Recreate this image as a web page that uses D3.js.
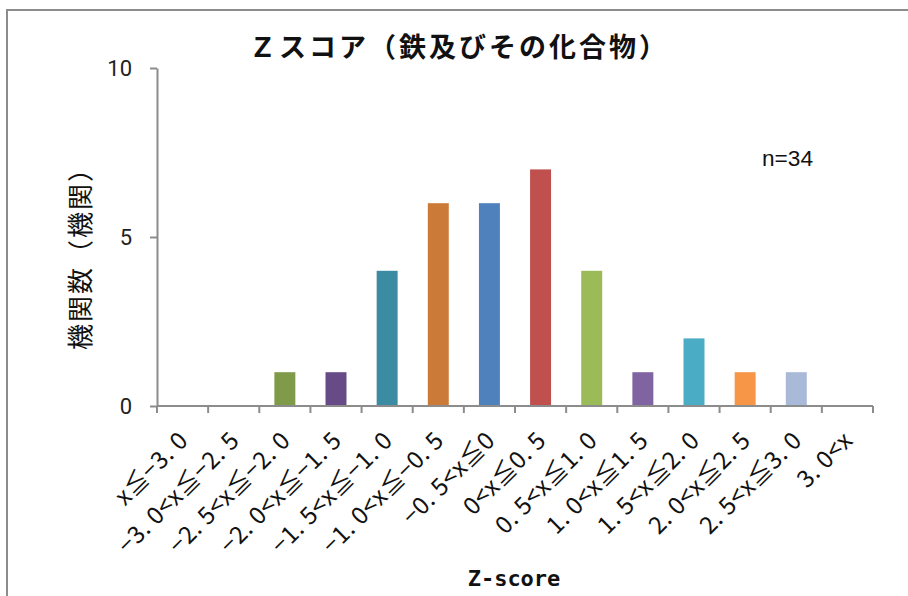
<!DOCTYPE html>
<html>
<head>
<meta charset="utf-8">
<script src="https://cdn.jsdelivr.net/npm/d3@7"></script>
<style>
  html, body { margin: 0; padding: 0; background: #fff; }
  svg { display: block; }
  text { font-family: "Noto Sans CJK JP", "Noto Sans", sans-serif; }
</style>
</head>
<body>
<svg id="chart" width="908" height="596"></svg>
<script>
// Z-score bins (category labels) and the number of laboratories in each
const categories = [
  "x≦−3. 0", "−3. 0<x≦−2. 5", "−2. 5<x≦−2. 0", "−2. 0<x≦−1. 5",
  "−1. 5<x≦−1. 0", "−1. 0<x≦−0. 5", "−0. 5<x≦0", "0<x≦0. 5",
  "0. 5<x≦1. 0", "1. 0<x≦1. 5", "1. 5<x≦2. 0", "2. 0<x≦2. 5",
  "2. 5<x≦3. 0", "3. 0<x"
];
const counts = [0, 0, 1, 1, 4, 6, 6, 7, 4, 1, 2, 1, 1, 0];
const barColors = [
  "#4F81BD", "#C0504D", "#7F9A48", "#664B86", "#3B8BA3", "#CB7A37", "#4F81BD",
  "#C0504D", "#9BBB59", "#8064A2", "#4BACC6", "#F79646", "#A9B9D8", "#2C4D75"
];
const yTicks = [0, 5, 10];
const titleText = "Ｚスコア（鉄及びその化合物）";
const yTitle = "機関数（機関）";
const xTitle = "Z-score";
const nLabel = "n=34";

const svg = d3.select("#chart");
const axisColor = "#8C8C8C";

// outer frame (top and left edges visible)
svg.append("path")
  .attr("d", "M7,596 L7,10 L908,10")
  .attr("fill", "none")
  .attr("stroke", axisColor)
  .attr("stroke-width", 2);

const plot = { left: 157, right: 873, top: 68, bottom: 406 };

const x = d3.scaleBand().domain(categories).range([plot.left, plot.right]).padding(0);
const y = d3.scaleLinear().domain([0, 10]).range([plot.bottom, plot.top]);
const barW = x.bandwidth() * 0.41;

// bars
svg.append("g").selectAll("rect")
  .data(categories.map((c, i) => ({ c, v: counts[i], col: barColors[i] })).filter(d => d.v > 0))
  .join("rect")
  .attr("x", d => x(d.c) + (x.bandwidth() - barW) / 2)
  .attr("y", d => y(d.v))
  .attr("width", barW)
  .attr("height", d => y(0) - y(d.v))
  .attr("fill", d => d.col);

// y axis
const yAxis = svg.append("g")
  .attr("transform", `translate(${plot.left},0)`)
  .call(d3.axisLeft(y).tickValues(yTicks).tickSize(7).tickSizeOuter(0).tickPadding(18));
yAxis.select(".domain").attr("stroke", axisColor).attr("stroke-width", 2);
yAxis.selectAll(".tick line").attr("stroke", axisColor).attr("stroke-width", 2);
yAxis.selectAll(".tick text")
  .attr("fill", "#222")
  .style("font-family", "Roboto, 'Noto Sans', sans-serif")
  .style("font-size", "22px");

// x axis line and boundary ticks
const xg = svg.append("g");
xg.append("line")
  .attr("x1", plot.left).attr("x2", x.range()[1])
  .attr("y1", y(0)).attr("y2", y(0))
  .attr("stroke", axisColor).attr("stroke-width", 2);
const bounds = categories.map(c => x(c)).concat([x.range()[1]]);
xg.selectAll("line.tk")
  .data(bounds)
  .join("line")
  .attr("class", "tk")
  .attr("x1", d => d).attr("x2", d => d)
  .attr("y1", y(0)).attr("y2", y(0) + 7)
  .attr("stroke", axisColor).attr("stroke-width", 2);

// rotated category labels
xg.selectAll("text")
  .data(categories)
  .join("text")
  .attr("transform", c => `translate(${x(c) + x.bandwidth() / 2 + 7},${y(0) + 36}) rotate(-45)`)
  .attr("text-anchor", "end")
  .attr("fill", "#111")
  .style("font-size", "24px")
  .style("letter-spacing", "0.5px")
  .text(c => c);

// titles
svg.append("text")
  .attr("x", 459).attr("y", 57)
  .attr("text-anchor", "middle")
  .style("font-size", "27px")
  .style("font-weight", "bold")
  .style("letter-spacing", "3px")
  .attr("fill", "#111")
  .text(titleText);

svg.append("text")
  .attr("transform", "translate(78,252) rotate(-90)")
  .attr("text-anchor", "middle")
  .attr("dominant-baseline", "central")
  .style("font-size", "26px")
  .style("letter-spacing", "2px")
  .attr("fill", "#111")
  .text(yTitle);

svg.append("text")
  .attr("x", 514).attr("y", 586)
  .attr("text-anchor", "middle")
  .style("font-family", "'DejaVu Sans Mono', monospace")
  .style("font-size", "22px")
  .style("font-weight", "bold")
  .attr("fill", "#111")
  .text(xTitle);

svg.append("text")
  .attr("x", 762).attr("y", 166)
  .attr("textLength", 51)
  .attr("lengthAdjust", "spacingAndGlyphs")
  .style("font-family", "'Liberation Sans Narrow', 'Liberation Sans', sans-serif")
  .style("font-size", "22px")
  .attr("fill", "#111")
  .text(nLabel);
</script>
</body>
</html>
